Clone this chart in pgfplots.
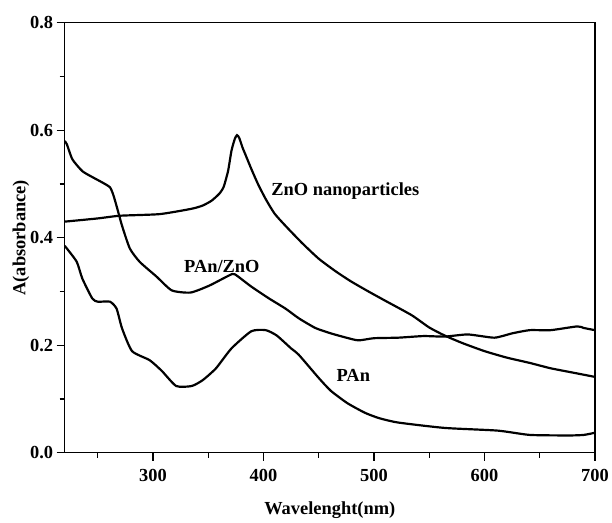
\documentclass[border=0pt]{standalone}
\usepackage{pgfplots}
\pgfplotsset{compat=1.18}
\usepackage{fontspec}
\setmainfont{Liberation Serif}
\newcommand{\lbl}{\bfseries\fontsize{18.5bp}{20bp}\selectfont}

\begin{document}
\begin{tikzpicture}
\begin{axis}[
  scale only axis, width=533bp, height=432bp,
  xmin=220, xmax=700, ymin=0, ymax=0.8,
  xtick={300,400,500,600,700}, minor xtick={250,350,450,550,650},
  ytick={0,0.2,0.4,0.6,0.8}, minor ytick={0.1,0.3,0.5,0.7},
  tick pos=left, tick align=outside,
  major tick length=8bp, minor tick length=5bp,
  every tick/.style={black, line width=1.2bp},
  axis line style={line width=1.2bp},
  /pgf/number format/assume math mode=true,
  yticklabel style={/pgf/number format/.cd, fixed, fixed zerofill, precision=1},
  ticklabel style={font=\lbl},
  xticklabel style={/pgf/number format/1000 sep={}, yshift=-5bp},
  xlabel={Wavelenght(nm)}, ylabel={A(absorbance)},
  label style={font=\lbl},
  xlabel style={yshift=-14bp},
  ylabel style={yshift=-6bp},
]
% ZnO nanoparticles
\addplot[black, no markers, line width=2.2bp, smooth, tension=0.35] coordinates {
(220,0.430)(250,0.436)(270,0.441)(306,0.444)(335,0.454)(345,0.460)(353,0.469)
(360,0.482)(364,0.495)(368,0.525)(371,0.562)(374,0.584)(376,0.591)(378,0.586)
(381,0.568)(384,0.553)(389,0.528)(395,0.500)(402,0.472)(410,0.445)(420,0.422)
(435,0.390)(450,0.361)(465,0.338)(479,0.319)(495,0.300)(510,0.283)(534,0.256)
(550,0.233)(564,0.218)(580,0.204)(600,0.189)(620,0.177)(641,0.167)(660,0.157)
(680,0.149)(700,0.141)};
% PAn/ZnO
\addplot[black, no markers, line width=2.2bp, smooth, tension=0.35] coordinates {
(220,0.580)(222,0.574)(227,0.546)(236,0.524)(245,0.513)(254,0.503)(261,0.494)
(264,0.480)(267,0.459)(272,0.422)(279,0.380)(288,0.355)(303,0.328)(317,0.302)
(334,0.298)(351,0.311)(369,0.330)(374,0.332)(389,0.309)(405,0.287)(420,0.268)
(432,0.250)(447,0.232)(461,0.222)(475,0.214)(486,0.209)(500,0.213)(522,0.214)
(545,0.217)(564,0.216)(585,0.220)(609,0.214)(625,0.222)(641,0.228)(660,0.228)
(684,0.235)(690,0.232)(700,0.228)};
% PAn
\addplot[black, no markers, line width=2.2bp, smooth, tension=0.35] coordinates {
(220,0.385)(222,0.380)(231,0.355)(236,0.324)(245,0.287)(250,0.281)(261,0.281)
(267,0.268)(272,0.231)(281,0.189)(297,0.172)(308,0.152)(321,0.124)(335,0.124)
(345,0.135)(357,0.157)(371,0.194)(389,0.226)(402,0.228)(412,0.218)(425,0.194)
(432,0.182)(450,0.139)(461,0.115)(476,0.092)(492,0.074)(505,0.064)(522,0.056)
(564,0.046)(612,0.041)(641,0.033)(677,0.032)(690,0.033)(700,0.037)};
\node[font=\lbl, anchor=west, inner sep=0pt] at (axis cs:407,0.487) {ZnO nanoparticles};
\node[font=\lbl, anchor=west, inner sep=0pt] at (axis cs:328,0.346) {PAn/ZnO};
\node[font=\lbl, anchor=west, inner sep=0pt] at (axis cs:466,0.143) {PAn};
\end{axis}
\path (current axis.south west) ++(-65bp,-67bp) coordinate (bl);
\path (current axis.south west) ++(547bp,455bp) coordinate (tr);
\useasboundingbox (bl) rectangle (tr);
\end{tikzpicture}
\end{document}
